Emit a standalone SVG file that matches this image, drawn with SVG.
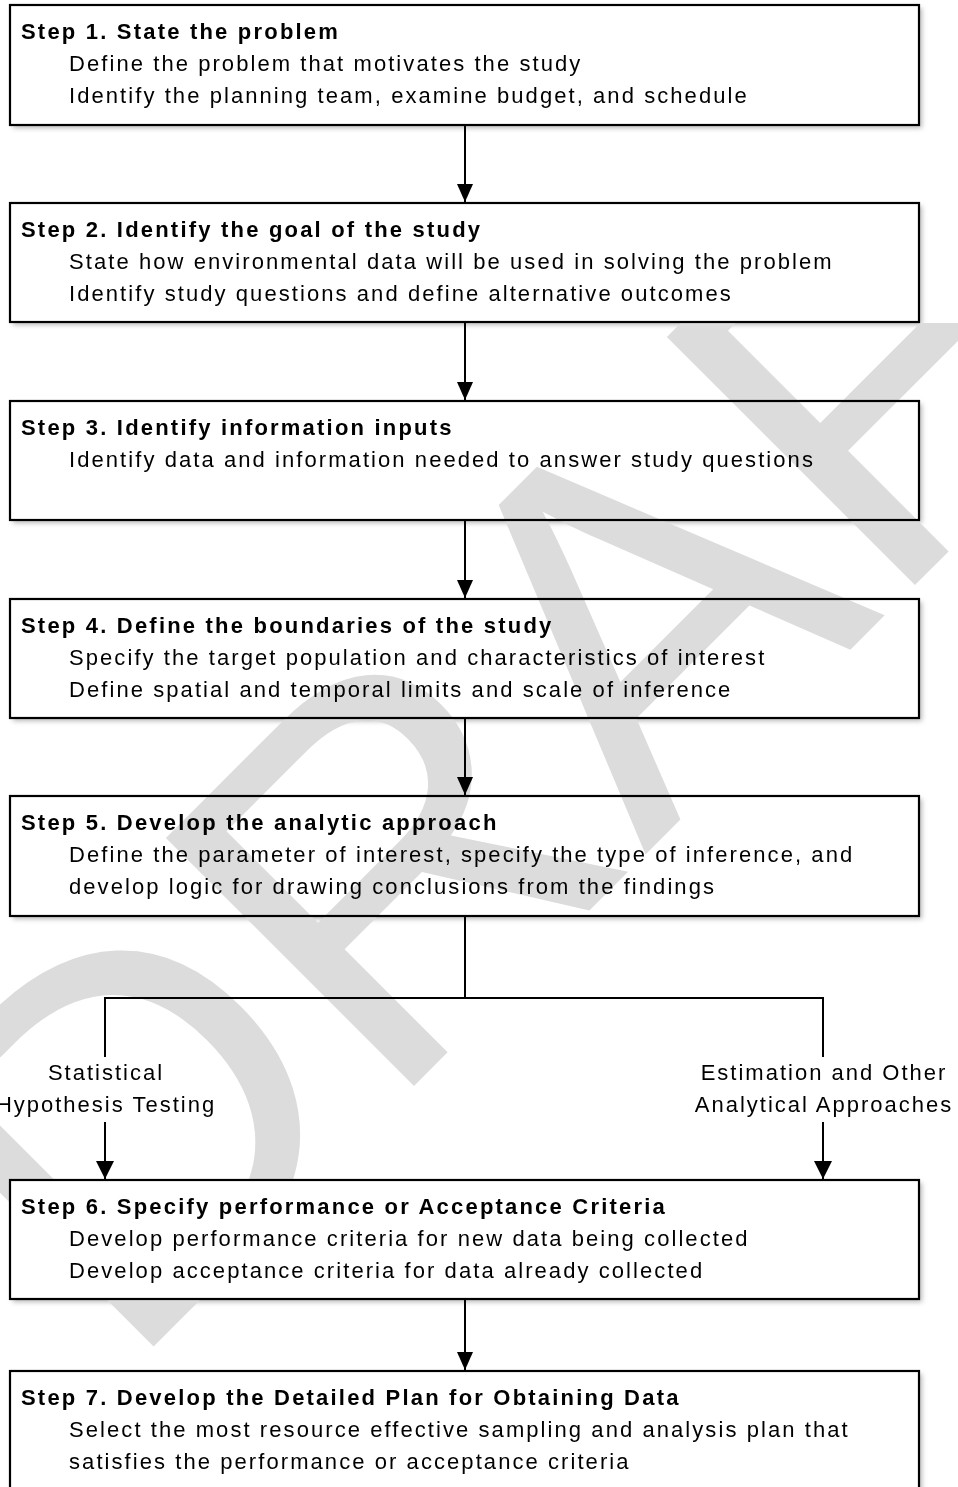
<svg xmlns="http://www.w3.org/2000/svg" width="958" height="1487" viewBox="0 0 958 1487">
<style>
.box{fill:#fff;stroke:#000;stroke-width:2.2}
.open{fill:none}
.sh{fill:#000;opacity:.28}
.t{font-family:"Liberation Sans",Arial,sans-serif;font-size:22px;font-weight:bold;letter-spacing:2.2px;fill:#000}
.b{font-family:"Liberation Sans",Arial,sans-serif;font-size:22px;letter-spacing:2.07px;fill:#000}
.l{font-family:"Liberation Sans",Arial,sans-serif;font-size:22px;letter-spacing:2px;fill:#000;text-anchor:middle}
.c{fill:none;stroke:#000;stroke-width:2}
.wm{font-family:"Liberation Sans",Arial,sans-serif;font-size:510px;fill:#dcdcdc}
</style>
<defs>
<filter id="blur" x="-5%" y="-20%" width="110%" height="140%"><feGaussianBlur stdDeviation="2.5"/></filter>
<clipPath id="wmclip"><rect x="0" y="323" width="958" height="1164"/></clipPath>
<marker id="ah" markerUnits="userSpaceOnUse" markerWidth="18" markerHeight="16" refX="18" refY="8" orient="auto"><path d="M0,0 L18,8 L0,16 z" fill="#000"/></marker>
</defs>
<rect width="958" height="1487" fill="#fff"/>
<g id="shadows" filter="url(#blur)">
<rect class="sh" x="13" y="8" width="909" height="120"/>
<rect class="sh" x="13" y="206" width="909" height="119"/>
<rect class="sh" x="13" y="404" width="909" height="119"/>
<rect class="sh" x="13" y="602" width="909" height="119"/>
<rect class="sh" x="13" y="799" width="909" height="120"/>
<rect class="sh" x="13" y="1183" width="909" height="119"/>
<rect class="sh" x="13" y="1374" width="909" height="120"/>
</g>
<rect x="10" y="401" width="909" height="119" fill="#fff"/>
<rect x="10" y="599" width="909" height="119" fill="#fff"/>
<rect x="10" y="796" width="909" height="120" fill="#fff"/>
<g id="watermark" clip-path="url(#wmclip)"><text class="wm" transform="translate(124,1376) rotate(-45)" x="0" y="0">DRAFT</text></g>
<g id="step1"><rect class="box" x="10" y="5" width="909" height="120"/>
<text class="t" x="21" y="39">Step 1. State the problem</text>
<text class="b" x="69" y="71">Define the problem that motivates the study</text>
<text class="b" x="69" y="103">Identify the planning team, examine budget, and schedule</text></g>
<g id="step2"><rect class="box" x="10" y="203" width="909" height="119"/>
<text class="t" x="21" y="237">Step 2. Identify the goal of the study</text>
<text class="b" x="69" y="269">State how environmental data will be used in solving the problem</text>
<text class="b" x="69" y="301">Identify study questions and define alternative outcomes</text></g>
<g id="step3"><rect class="box open" x="10" y="401" width="909" height="119"/>
<text class="t" x="21" y="435">Step 3. Identify information inputs</text>
<text class="b" x="69" y="467">Identify data and information needed to answer study questions</text></g>
<g id="step4"><rect class="box open" x="10" y="599" width="909" height="119"/>
<text class="t" x="21" y="633">Step 4. Define the boundaries of the study</text>
<text class="b" x="69" y="665">Specify the target population and characteristics of interest</text>
<text class="b" x="69" y="697">Define spatial and temporal limits and scale of inference</text></g>
<g id="step5"><rect class="box open" x="10" y="796" width="909" height="120"/>
<text class="t" x="21" y="830">Step 5. Develop the analytic approach</text>
<text class="b" x="69" y="862">Define the parameter of interest, specify the type of inference, and</text>
<text class="b" x="69" y="894">develop logic for drawing conclusions from the findings</text></g>
<g id="step6"><rect class="box" x="10" y="1180" width="909" height="119"/>
<text class="t" x="21" y="1214">Step 6. Specify performance or Acceptance Criteria</text>
<text class="b" x="69" y="1246">Develop performance criteria for new data being collected</text>
<text class="b" x="69" y="1278">Develop acceptance criteria for data already collected</text></g>
<g id="step7"><rect class="box" x="10" y="1371" width="909" height="120"/>
<text class="t" x="21" y="1405">Step 7. Develop the Detailed Plan for Obtaining Data</text>
<text class="b" x="69" y="1437">Select the most resource effective sampling and analysis plan that</text>
<text class="b" x="69" y="1469">satisfies the performance or acceptance criteria</text></g>
<g id="connectors">
<line class="c" x1="465" y1="126" x2="465" y2="202" marker-end="url(#ah)"/>
<line class="c" x1="465" y1="323" x2="465" y2="400" marker-end="url(#ah)"/>
<line class="c" x1="465" y1="521" x2="465" y2="598" marker-end="url(#ah)"/>
<line class="c" x1="465" y1="719" x2="465" y2="795" marker-end="url(#ah)"/>
<line class="c" x1="465" y1="917" x2="465" y2="998"/>
<polyline class="c" points="105,1179 105,998 823,998 823,1179"/>
<path d="M96,1161 L114,1161 L105,1179 z" fill="#000"/>
<path d="M814,1161 L832,1161 L823,1179 z" fill="#000"/>
<line class="c" x1="465" y1="1300" x2="465" y2="1370" marker-end="url(#ah)"/>
<rect x="-5" y="1057" width="223" height="65" fill="#fff"/>
<rect x="690" y="1057" width="266" height="65" fill="#fff"/>
<text class="l" x="106" y="1080">Statistical</text>
<text class="l" x="106" y="1112">Hypothesis Testing</text>
<text class="l" x="824" y="1080">Estimation and Other</text>
<text class="l" x="824" y="1112">Analytical Approaches</text>
</g>
</svg>
